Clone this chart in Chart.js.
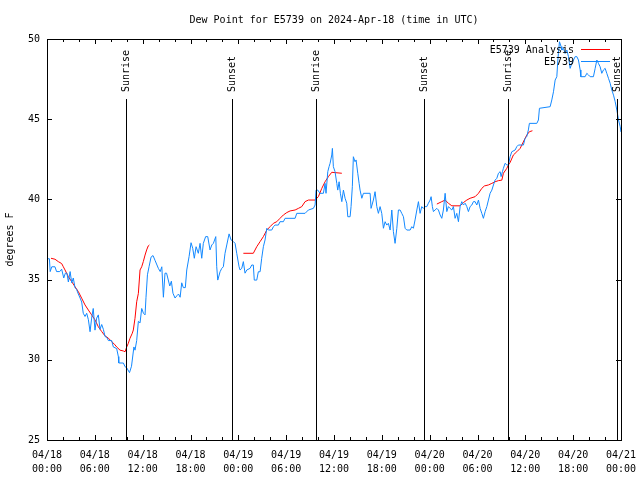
<!DOCTYPE html>
<html>
<head>
<meta charset="utf-8">
<script src="https://cdn.jsdelivr.net/npm/chart.js@4.4.1/dist/chart.umd.min.js"></script>
<style>
  html, body { margin: 0; padding: 0; background: #fff; }
  #wrap { width: 640px; height: 480px; }
</style>
</head>
<body>
<div id="wrap"><canvas id="chart" width="640" height="480"></canvas></div>
<script>
// hours since 2024-04-18 00:00 UTC
const stationHours = [
  0, 0.3, 0.4, 0.6, 1.0, 1.2, 1.6, 1.84, 2.1, 2.3, 2.5, 2.68, 2.9, 3.1, 3.3, 3.51, 3.7, 3.93, 4.15, 4.35,
  4.55, 4.77, 4.98, 5.19, 5.4, 5.6, 5.8, 6.02, 6.23, 6.44, 6.65, 6.86, 7.07, 7.28, 7.5, 7.7, 8.11, 8.32, 8.74, 8.95,
  9.0, 9.58, 9.79, 10.0, 10.35, 10.6, 10.9, 11.04, 11.25, 11.46, 11.67, 11.88, 12.1, 12.3, 12.42, 12.6, 12.8, 13.05, 13.3, 13.55,
  13.97, 14.2, 14.4, 14.6, 14.8, 15.0, 15.4, 15.6, 15.8, 16.06, 16.3, 16.5, 16.7, 16.9, 17.1, 17.35, 17.53, 17.82, 18.07, 18.28,
  18.48, 18.7, 18.98, 19.2, 19.41, 19.61, 19.9, 20.16, 20.45, 20.67, 20.87, 21.17, 21.29, 21.42, 21.71, 21.92, 22.12, 22.33, 22.55, 22.84,
  23.09, 23.38, 23.59, 23.8, 24.09, 24.22, 24.43, 24.63, 24.84, 25.06, 25.47, 25.68, 25.88, 26.0, 26.31, 26.51, 26.73, 26.93, 27.14, 27.35,
  27.57, 27.77, 28.19, 28.4, 28.61, 29.02, 29.23, 29.65, 29.86, 31.12, 31.33, 32.37, 32.79, 33.41, 33.63, 33.75, 33.96, 34.25, 34.67, 34.88,
  35.0, 35.22, 35.38, 35.51, 35.72, 35.8, 35.92, 36.13, 36.35, 36.47, 36.64, 36.8, 36.98, 37.18, 37.39, 37.6, 37.73, 38.02, 38.14, 38.3,
  38.43, 38.64, 38.77, 38.98, 39.15, 39.27, 39.49, 39.69, 40.53, 40.65, 40.94, 41.15, 41.37, 41.57, 41.78, 41.99, 42.2, 42.41, 42.62, 42.82,
  43.04, 43.25, 43.45, 43.66, 43.88, 44.08, 44.29, 44.5, 44.71, 44.92, 45.13, 45.55, 45.76, 45.96, 46.17, 46.39, 46.59, 46.8, 47.01, 47.21,
  47.43, 47.64, 47.84, 48.06, 48.18, 48.34, 48.47, 48.68, 48.9, 49.1, 49.31, 49.52, 49.72, 49.94, 50.15, 50.35, 50.56, 50.78, 50.98, 51.19,
  51.4, 51.61, 51.82, 52.03, 52.23, 52.45, 52.66, 52.86, 53.07, 53.29, 53.49, 53.7, 53.91, 54.12, 54.33, 54.54, 54.74, 54.96, 55.17, 55.37,
  55.58, 55.8, 56.0, 56.2, 56.42, 56.63, 56.84, 56.96, 57.13, 57.25, 57.46, 57.68, 57.88, 58.09, 58.3, 58.72, 58.93, 59.13, 59.76, 59.97,
  60.18, 60.38, 60.51, 61.44, 61.64, 61.77, 63.11, 63.32, 63.53, 63.74, 63.95, 64.08, 64.15, 64.28, 64.49, 64.58, 64.78, 64.99, 65.21, 65.41,
  65.62, 65.83, 66.04, 66.25, 66.46, 66.66, 66.88, 66.96, 67.5, 67.71, 67.92, 68.13, 68.54, 68.76, 68.97, 69.17, 69.38, 69.59, 69.8, 70.01,
  70.22, 70.43, 70.64, 70.85, 71.06, 71.27, 71.48, 71.69, 71.9, 72.0
];
const stationDew = [
  36.3, 36.3, 35.5, 35.8, 35.8, 35.5, 35.5, 35.65, 35.1, 35.4, 35.4, 34.85, 35.5, 34.8, 35.1, 34.5, 34.4, 34.1, 33.85, 33.6,
  32.9, 32.7, 32.9, 32.5, 31.75, 32.6, 33.2, 31.85, 32.6, 32.8, 31.9, 32.2, 31.9, 31.45, 31.4, 31.2, 31.2, 30.8, 30.7, 30.2,
  29.8, 29.8, 29.57, 29.5, 29.2, 29.6, 30.8, 30.6, 31.2, 32.4, 32.3, 33.2, 32.9, 32.8, 33.9, 35.3, 35.8, 36.4, 36.5, 36.2,
  35.7, 35.5, 35.8, 33.9, 35.4, 35.4, 34.6, 34.9, 34.15, 33.85, 34.0, 34.1, 33.9, 34.8, 34.5, 34.5, 35.6, 36.43, 37.3, 36.95,
  36.33, 37.05, 36.64, 37.26, 36.33, 37.26, 37.68, 37.68, 36.85, 37.16, 37.26, 37.68, 35.8, 34.97, 35.49, 35.7, 35.8, 36.64, 37.16, 37.85,
  37.47, 37.37, 37.26, 36.64, 35.8, 35.6, 35.7, 36.12, 35.4, 35.6, 35.7, 35.91, 35.91, 34.97, 34.97, 35.49, 35.49, 36.33, 37.05, 37.47,
  38.2, 38.09, 38.09, 38.3, 38.4, 38.4, 38.61, 38.61, 38.82, 38.82, 39.13, 39.13, 39.34, 39.44, 39.65, 40.58, 40.58, 40.38, 40.38, 41.0,
  40.38, 41.73, 42.04, 42.25, 42.77, 43.18, 42.04, 41.73, 41.0, 40.58, 41.1, 40.38, 39.86, 40.58, 40.07, 39.76, 38.92, 38.92, 39.55, 40.79,
  42.66, 42.35, 42.46, 41.63, 41.0, 40.58, 40.07, 40.38, 40.38, 39.44, 39.96, 40.48, 39.55, 39.13, 39.55, 39.13, 38.2, 38.61, 38.4, 38.51,
  38.09, 39.34, 37.99, 37.26, 38.2, 39.34, 39.34, 39.13, 38.92, 38.2, 38.09, 38.09, 38.3, 38.2, 38.72, 39.34, 39.86, 39.13, 39.55, 39.44,
  39.55, 39.55, 39.76, 39.96, 40.17, 39.55, 39.24, 39.34, 39.44, 39.34, 39.03, 38.82, 39.34, 40.38, 39.24, 39.55, 39.44, 39.34, 39.55, 38.82,
  39.13, 38.61, 39.55, 39.86, 39.65, 39.76, 39.55, 39.24, 39.55, 39.65, 39.86, 39.86, 39.65, 39.96, 39.44, 39.13, 38.82, 39.24, 39.55, 39.96,
  40.38, 40.58, 40.9, 41.2, 41.31, 41.63, 41.73, 41.42, 41.73, 41.94, 42.25, 42.15, 42.15, 42.66, 42.97, 43.08, 43.29, 43.39, 43.39, 43.81,
  43.91, 44.33, 44.74, 44.74, 44.95, 45.68, 45.78, 46.2, 46.71, 47.44, 47.65, 48.69, 49.1, 49.83, 49.52, 49.31, 49.42, 49.1, 49.31, 48.9,
  48.17, 48.48, 48.69, 48.9, 48.9, 48.69, 48.07, 47.65, 47.65, 47.86, 47.76, 47.65, 47.65, 48.17, 48.69, 48.48, 48.27, 47.86, 48.07, 48.17,
  47.86, 47.55, 47.24, 46.82, 46.5, 46.09, 45.57, 44.95, 44.53, 44.2
];

// analysis series, null = gap between runs
const analysisHours = [
  0.5, 1.0, 1.42, 1.84, 2.05, 2.26, 2.68, 3.1, 3.51, 3.93, 4.35, 4.77, 5.19, 5.6, 6.02, 6.44, 6.86, 7.28, 7.7, 8.11,
  8.53, 8.74, 9.16, 9.58, 9.79, 10.0, 10.2, 10.41, 10.7, 10.83, 11.04, 11.25, 11.46, 11.67, 11.88, 12.08, 12.3, 12.5, 12.7, 12.84,
  18,
  24.63, 25.88, 26.31, 26.73, 27.14, 27.57, 27.98, 28.4, 28.82, 29.23, 29.65, 30.08, 30.49, 31.12, 31.53, 31.96, 32.37, 32.79, 33.63, 34.04,
  34.47, 34.88, 35.3, 35.72, 36.13, 36.98,
  42,
  48.9, 49.52, 49.94, 50.35, 50.78, 51.82, 52.23, 52.66, 53.07, 53.7, 54.12, 54.54, 54.87, 55.37, 55.8, 56.2, 56.63, 57.05, 57.25, 57.68,
  57.88, 58.09, 58.5, 58.93, 59.35, 59.56, 59.97, 60.18, 60.51, 60.89
];
const analysisDew = [
  36.33, 36.27, 36.12, 36.0, 35.8, 35.6, 35.18, 34.87, 34.56, 34.25, 33.84, 33.42, 33.1, 32.8, 32.49, 32.06, 31.76, 31.49, 31.35, 31.14,
  30.93, 30.8, 30.6, 30.55, 30.5, 30.8, 31.03, 31.34, 31.66, 31.86, 32.59, 33.62, 34.14, 35.6, 35.8, 36.12, 36.53, 36.85, 37.1, 37.16,
  null,
  36.64, 36.64, 37.05, 37.37, 37.68, 38.09, 38.3, 38.51, 38.61, 38.82, 39.03, 39.18, 39.28, 39.34, 39.44, 39.55, 39.86, 39.96, 39.96, 40.17,
  40.69, 41.1, 41.42, 41.69, 41.67, 41.63,
  null,
  39.71, 39.86, 39.96, 39.76, 39.6, 39.6, 39.8, 39.96, 40.07, 40.17, 40.38, 40.69, 40.84, 40.9, 41.0, 41.1, 41.17, 41.2, 41.63, 41.94,
  42.15, 42.3, 42.77, 42.97, 43.18, 43.39, 43.81, 44.01, 44.22, 44.28
];

const sunHours = [9.87, 23.25, 33.8, 47.35, 57.88, 71.48];
const sunLabels = ['Sunrise', 'Sunset', 'Sunrise', 'Sunset', 'Sunrise', 'Sunset'];
const yTicks = [25, 30, 35, 40, 45, 50];
const xTickHours = [0, 6, 12, 18, 24, 30, 36, 42, 48, 54, 60, 66, 72];

const FONT = '10px "DejaVu Sans Mono"';
const BLUE = '#1288ff';
const RED = '#ff0000';

function hourLabel(v) {
    const day = 18 + Math.floor(v / 24);
    const h = v % 24;
    return ['04/' + day, String(h).padStart(2, '0') + ':00'];
}

// frame, inward ticks, sunrise/sunset markers and key, gnuplot style
const gnuplotBits = {
    id: 'gnuplotBits',
    afterDatasetsDraw(chart) {
        const { ctx, chartArea: a, scales: { x, y } } = chart;
        ctx.save();
        ctx.strokeStyle = '#000';
        ctx.lineWidth = 1;

        // event lines + rotated labels
        ctx.font = FONT;
        ctx.fillStyle = '#000';
        sunHours.forEach((h, i) => {
            const px = Math.round(x.getPixelForValue(h)) + 0.5;
            ctx.beginPath();
            ctx.moveTo(px, 99);
            ctx.lineTo(px, a.bottom);
            ctx.stroke();
            ctx.save();
            ctx.translate(px, 92);
            ctx.rotate(-Math.PI / 2);
            ctx.textAlign = 'left';
            ctx.textBaseline = 'middle';
            ctx.fillText(sunLabels[i], 0, 0);
            ctx.restore();
        });

        // border
        ctx.strokeRect(a.left + 0.5, a.top + 0.5, a.right - a.left, a.bottom - a.top);

        // x ticks every 2 h, longer on the labelled ones
        ctx.beginPath();
        for (let h = 0; h <= 72; h += 2) {
            const px = Math.round(x.getPixelForValue(h)) + 0.5;
            const len = h % 6 === 0 ? 5 : 3;
            ctx.moveTo(px, a.bottom); ctx.lineTo(px, a.bottom - len);
            ctx.moveTo(px, a.top); ctx.lineTo(px, a.top + len);
        }
        yTicks.forEach(v => {
            const py = Math.round(y.getPixelForValue(v)) + 0.5;
            ctx.moveTo(a.left, py); ctx.lineTo(a.left + 5, py);
            ctx.moveTo(a.right, py); ctx.lineTo(a.right - 5, py);
        });
        ctx.stroke();

        // key
        const keys = [['E5739 Analysis', RED, 50], ['E5739', BLUE, 62]];
        ctx.textAlign = 'right';
        ctx.textBaseline = 'middle';
        keys.forEach(([txt, col, ky]) => {
            ctx.fillStyle = '#000';
            ctx.fillText(txt, 574, ky);
            ctx.strokeStyle = col;
            ctx.beginPath();
            ctx.moveTo(581, ky - 0.5);
            ctx.lineTo(610, ky - 0.5);
            ctx.stroke();
        });
        ctx.restore();
    }
};

new Chart(document.getElementById('chart'), {
    type: 'line',
    data: {
        datasets: [
            {
                label: 'E5739',
                data: stationHours.map((h, i) => ({ x: h, y: stationDew[i] })),
                borderColor: BLUE,
                borderWidth: 1,
                pointRadius: 0,
                tension: 0,
                order: 0
            },
            {
                label: 'E5739 Analysis',
                data: analysisHours.map((h, i) => ({ x: h, y: analysisDew[i] })),
                borderColor: RED,
                borderWidth: 1,
                pointRadius: 0,
                tension: 0,
                spanGaps: false,
                order: 1
            }
        ]
    },
    options: {
        responsive: false,
        animation: false,
        layout: { padding: { left: 0, right: 19, top: 0, bottom: 0 } },
        plugins: {
            legend: { display: false },
            tooltip: { enabled: false },
            title: {
                display: true,
                text: 'Dew Point for E5739 on 2024-Apr-18 (time in UTC)',
                color: '#000',
                font: { family: 'DejaVu Sans Mono', size: 10, weight: 'normal' },
                padding: { top: 14, bottom: 13 },
                fullSize: false
            }
        },
        scales: {
            x: {
                type: 'linear',
                min: 0,
                max: 72,
                grid: { display: false, drawTicks: false },
                border: { display: false },
                afterBuildTicks: s => { s.ticks = xTickHours.map(v => ({ value: v })); },
                afterFit: s => { s.height = 40; s.paddingLeft = 0; s.paddingRight = 0; },
                ticks: {
                    color: '#000',
                    font: { family: 'DejaVu Sans Mono', size: 10, lineHeight: 1.4 },
                    padding: 8,
                    maxRotation: 0,
                    autoSkip: false,
                    callback: v => hourLabel(v)
                }
            },
            y: {
                min: 25,
                max: 50,
                grid: { display: false, drawTicks: false },
                border: { display: false },
                afterBuildTicks: s => { s.ticks = yTicks.map(v => ({ value: v })); },
                afterFit: s => { s.width = 47; },
                title: {
                    display: true,
                    text: 'degrees F',
                    color: '#000',
                    font: { family: 'DejaVu Sans Mono', size: 10 },
                    padding: { top: 4, bottom: 4 }
                },
                ticks: {
                    color: '#000',
                    font: { family: 'DejaVu Sans Mono', size: 10 },
                    padding: 7
                }
            }
        }
    },
    plugins: [gnuplotBits]
});
</script>
</body>
</html>
